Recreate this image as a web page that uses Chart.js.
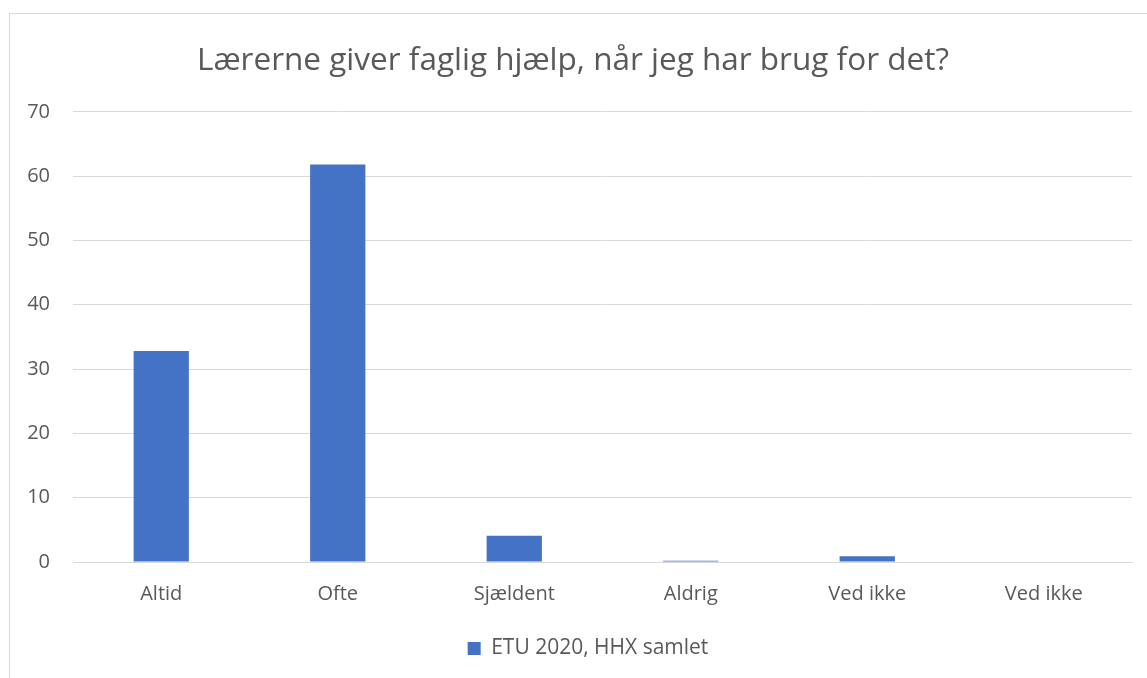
<!DOCTYPE html>
<html>
<head>
<meta charset="utf-8">
<script src="https://cdn.jsdelivr.net/npm/chart.js@4"></script>
<style>
  html, body { margin: 0; padding: 0; background: #fff; }
  #wrap { position: relative; width: 1147px; height: 678px; overflow: hidden; }
  #frame { position: absolute; left: 9px; top: 13px; width: 1200px; height: 700px;
           border-left: 1px solid #d9d9d9; border-top: 1px solid #d9d9d9; pointer-events: none; }
  canvas { position: absolute; left: 0; top: 0; }
</style>
</head>
<body>
<div id="wrap">
  <canvas id="chart" width="1147" height="678"></canvas>
  <div id="frame"></div>
</div>
<script>
// Chart data
const categories = ['Altid', 'Ofte', 'Sjældent', 'Aldrig', 'Ved ikke', 'Ved ikke'];
const values = [32.8, 61.8, 4.1, 0.2, 0.9, 0];
const seriesName = 'ETU 2020, HHX samlet';
const chartTitle = 'Lærerne giver faglig hjælp, når jeg har brug for det?';
const yTicks = [0, 10, 20, 30, 40, 50, 60, 70];

const textColor = '#595959';
const fontFamily = "'Open Sans', 'Noto Sans', sans-serif";

// Nudge title and legend to the right (the original frame is wider than the picture)
const shiftBoxes = {
    id: 'shiftBoxes',
    afterLayout(chart) {
        if (chart.titleBlock) { chart.titleBlock.left += 7; chart.titleBlock.right += 7; }
        if (chart.legend) { chart.legend.left += 22; chart.legend.right += 22; }
    }
};

const ctx = document.getElementById('chart').getContext('2d');

new Chart(ctx, {
    type: 'bar',
    data: {
        labels: categories,
        datasets: [{
            label: seriesName,
            data: values,
            backgroundColor: '#4472C4',
            borderWidth: 0,
            categoryPercentage: 1,
            barPercentage: 0.313
        }]
    },
    plugins: [shiftBoxes],
    options: {
        responsive: false,
        animation: false,
        layout: { padding: { left: 0, right: 15, top: 0, bottom: 9 } },
        plugins: {
            title: {
                display: true,
                text: chartTitle,
                color: textColor,
                font: { family: fontFamily, size: 31.5, weight: 'normal' },
                padding: { top: 42, bottom: 32 }
            },
            legend: {
                position: 'bottom',
                labels: {
                    color: textColor,
                    font: { family: fontFamily, size: 21 },
                    boxWidth: 13,
                    boxHeight: 13,
                    padding: 10
                }
            },
            tooltip: { enabled: false }
        },
        scales: {
            x: {
                grid: { display: false },
                border: { color: '#d9d9d9' },
                ticks: {
                    color: textColor,
                    font: { family: fontFamily, size: 20 },
                    padding: 12,
                    maxRotation: 0
                },
                afterFit: function(scale) { scale.height = 66; }
            },
            y: {
                min: 0,
                max: 70,
                grid: { color: '#d9d9d9', lineWidth: 1, drawTicks: false },
                border: { display: false },
                afterBuildTicks: function(scale) {
                    scale.ticks = yTicks.map(v => ({ value: v }));
                },
                ticks: {
                    color: textColor,
                    font: { family: fontFamily, size: 20 },
                    padding: 23
                },
                afterFit: function(scale) { scale.width = 73; }
            }
        }
    }
});
</script>
</body>
</html>
